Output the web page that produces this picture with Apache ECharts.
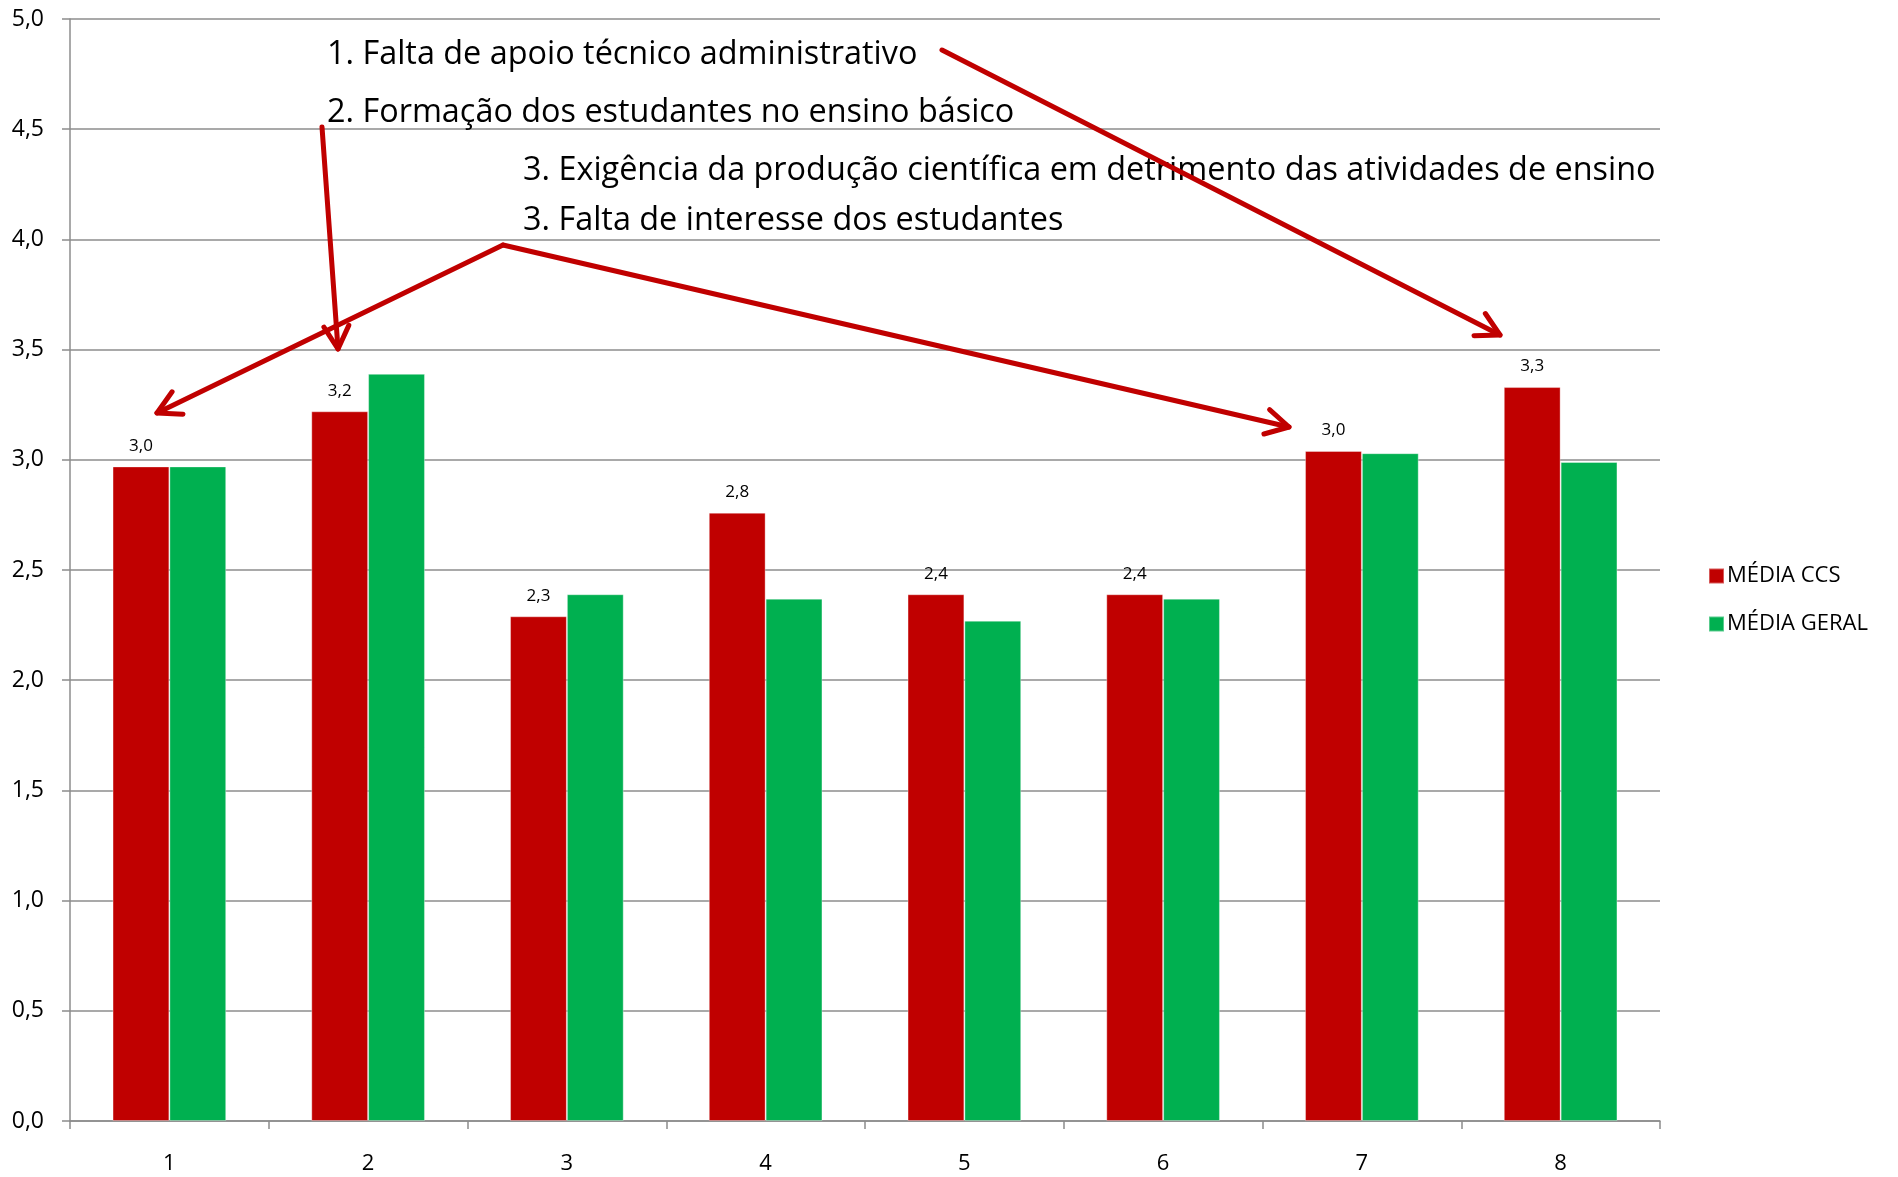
<!DOCTYPE html>
<html>

<head>
    <title>Média CCS x Média Geral</title>
    <meta charset="utf-8">
    <script src="https://cdn.jsdelivr.net/npm/echarts@6/dist/echarts.min.js"></script>
    <style>
        html, body { margin: 0; padding: 0; background: #fff; }
    </style>
</head>

<body>
    <div id="main" style="width: 1898px;height:1177px;"></div>

    <script type="text/javascript">
        // categories and values
        var categories = ['1', '2', '3', '4', '5', '6', '7', '8'];
        var mediaCCS = [2.97, 3.22, 2.29, 2.76, 2.39, 2.39, 3.04, 3.33];
        var mediaGeral = [2.97, 3.39, 2.39, 2.37, 2.27, 2.37, 3.03, 2.99];
        var seriesNames = ['MÉDIA CCS', 'MÉDIA GERAL'];

        var notes = [
            '1. Falta de apoio técnico administrativo',
            '2. Formação dos estudantes no ensino básico',
            '3. Exigência da produção científica em detrimento das atividades de ensino',
            '3. Falta de interesse dos estudantes'
        ];

        var FONT = 'Open Sans';
        var RED = '#C00000';
        var GREEN = '#00B050';
        var GRID = '#8c8c8c';

        var myChart = echarts.init(document.getElementById('main'));

        // arrow = line plus open V head
        function arrow(x1, y1, x2, y2) {
            var ang = Math.atan2(y2 - y1, x2 - x1);
            var len = 26, spread = 0.5;
            var a = [x2 - len * Math.cos(ang - spread), y2 - len * Math.sin(ang - spread)];
            var b = [x2 - len * Math.cos(ang + spread), y2 - len * Math.sin(ang + spread)];
            var st = { stroke: RED, lineWidth: 5, fill: null, lineCap: 'round', lineJoin: 'round' };
            return [
                { type: 'line', shape: { x1: x1, y1: y1, x2: x2, y2: y2 }, style: st, z: 100 },
                { type: 'polyline', shape: { points: [a, [x2, y2], b] }, style: st, z: 100 }
            ];
        }

        var graphics = [];
        var noteX = [327, 327, 523, 523];
        var noteY = [55, 113, 171, 221];
        notes.forEach(function (t, i) {
            graphics.push({
                type: 'text',
                x: noteX[i],
                y: noteY[i],
                style: {
                    text: t,
                    font: '32.4px "' + FONT + '"',
                    fill: '#000',
                    verticalAlign: 'middle'
                },
                z: 90
            });
        });
        graphics = graphics
            .concat(arrow(942, 50, 1500, 335))
            .concat(arrow(322, 127, 338, 349))
            .concat(arrow(503, 245, 157, 413))
            .concat(arrow(503, 245, 1289, 427));

        var option = {
            animation: false,
            textStyle: { fontFamily: FONT },
            grid: { left: 70, right: 238, top: 19, bottom: 56 },
            legend: {
                orient: 'vertical',
                left: 1703,
                top: 560,
                itemWidth: 15,
                itemHeight: 15,
                itemGap: 26,
                icon: 'rect',
                textStyle: { fontSize: 22, color: '#000', fontFamily: FONT, padding: [0, 0, 0, -2] },
                data: seriesNames
            },
            xAxis: {
                type: 'category',
                data: categories,
                axisLine: { lineStyle: { color: GRID, width: 1.5 } },
                axisTick: { show: true, length: 8, lineStyle: { color: GRID, width: 1.5 } },
                axisLabel: { fontSize: 22, color: '#000', margin: 32 }
            },
            yAxis: {
                type: 'value',
                min: 0,
                max: 5,
                interval: 0.5,
                axisLine: { show: true, lineStyle: { color: GRID, width: 1.5 } },
                axisTick: { show: true, length: 8, lineStyle: { color: GRID, width: 1.5 } },
                splitLine: { lineStyle: { color: GRID, width: 1.5 } },
                axisLabel: {
                    fontSize: 23,
                    color: '#000',
                    margin: 26,
                    formatter: function (v) { return v.toFixed(1).replace('.', ','); }
                }
            },
            series: [{
                name: seriesNames[0],
                type: 'bar',
                data: mediaCCS,
                barWidth: '28.6%',
                barGap: '0%',
                itemStyle: { color: RED, borderColor: 'rgba(255,255,255,0.35)', borderWidth: 1 },
                label: {
                    show: true,
                    position: 'top',
                    distance: 12,
                    fontSize: 17,
                    color: '#000',
                    formatter: function (p) { return p.value.toFixed(1).replace('.', ','); }
                }
            }, {
                name: seriesNames[1],
                type: 'bar',
                data: mediaGeral,
                barWidth: '28.6%',
                barGap: '0%',
                itemStyle: { color: GREEN, borderColor: 'rgba(255,255,255,0.35)', borderWidth: 1 }
            }],
            graphic: graphics
        };

        myChart.setOption(option);
    </script>
</body>

</html>
